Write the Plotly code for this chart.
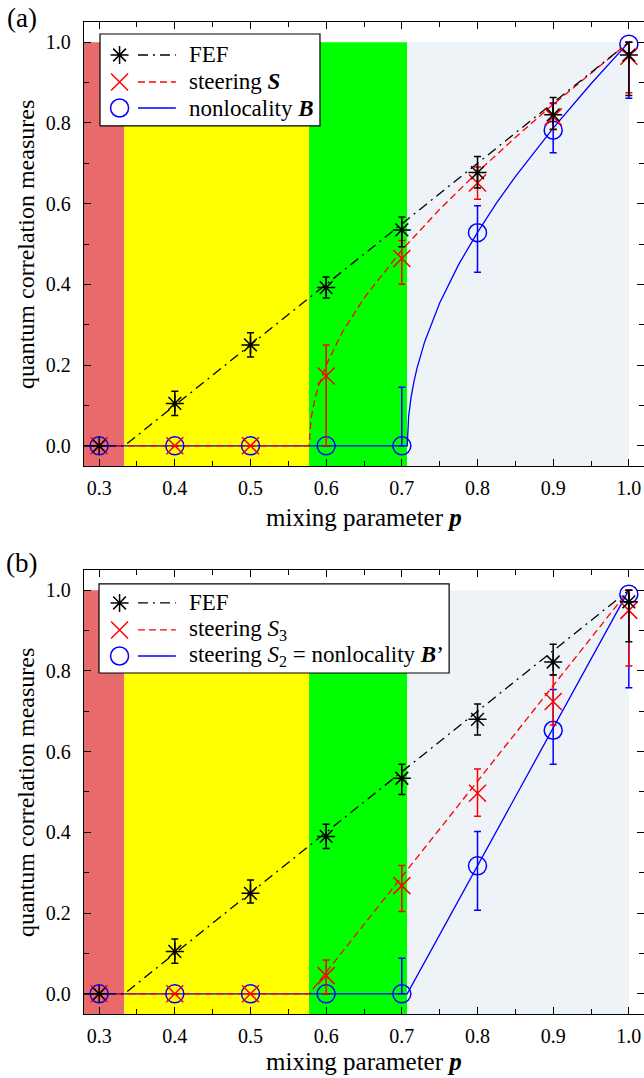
import plotly.graph_objects as go

# ---------------- data ----------------
p_data = [0.3, 0.4, 0.5, 0.6, 0.7, 0.8, 0.9, 1.0]

# panel (a)
fef_a = [0.0, 0.105, 0.25, 0.392, 0.535, 0.677, 0.82, 0.968]
fef_a_up = [None, 0.03, 0.03, 0.026, 0.032, 0.04, 0.043, 0.032]
fef_a_dn = [None, 0.03, 0.03, 0.026, 0.042, 0.038, 0.036, 0.1]
s_a = [0.0, 0.0, 0.0, 0.173, 0.464, 0.651, 0.815, 0.965]
s_a_up = [None, None, None, 0.077, 0.045, 0.04, 0.035, 0.035]
s_a_dn = [None, None, None, 0.173, 0.064, 0.04, 0.032, 0.09]
b_a = [0.0, 0.0, 0.0, 0.0, 0.0, 0.528, 0.782, 0.995]
b_a_up = [None, None, None, None, 0.145, 0.067, 0.066, 0.005]
b_a_dn = [None, None, None, None, 0.0, 0.098, 0.056, 0.134]

# panel (b)
fef_b = [0.0, 0.105, 0.249, 0.39, 0.534, 0.68, 0.822, 0.971]
fef_b_up = [None, 0.031, 0.033, 0.03, 0.035, 0.038, 0.044, 0.029]
fef_b_dn = [None, 0.029, 0.024, 0.03, 0.04, 0.039, 0.032, 0.099]
s3_b = [0.0, 0.0, 0.0, 0.045, 0.268, 0.497, 0.724, 0.95]
s3_b_up = [None, None, None, 0.039, 0.05, 0.06, 0.066, 0.05]
s3_b_dn = [None, None, None, 0.045, 0.064, 0.057, 0.058, 0.138]
b_b = [0.0, 0.0, 0.0, 0.0, 0.0, 0.317, 0.653, 0.99]
b_b_up = [None, None, None, None, 0.088, 0.085, 0.101, 0.01]
b_b_dn = [None, None, None, None, 0.0, 0.11, 0.084, 0.232]

# theory curves
fef_line_p = [0.28, 0.3333, 1.0]
fef_line_v = [0.0, 0.0, 1.0]
s_line_p = [0.28, 0.5774, 0.58, 0.585, 0.59, 0.60, 0.62, 0.65, 0.70, 0.75, 0.80, 0.85, 0.90, 0.95, 1.0]
s_line_v = [0.0, 0.0, 0.068, 0.115, 0.149, 0.2, 0.277, 0.366, 0.485, 0.586, 0.678, 0.764, 0.846, 0.924, 1.0]
b_line_p = [0.28, 0.7071, 0.709, 0.712, 0.716, 0.72, 0.73, 0.75, 0.775, 0.8, 0.825, 0.85, 0.9, 0.95, 1.0]
b_line_v = [0.0, 0.0, 0.073, 0.118, 0.159, 0.192, 0.257, 0.354, 0.449, 0.529, 0.601, 0.667, 0.787, 0.897, 1.0]
s3_line_p = [0.28, 0.5774, 1.0]
s3_line_v = [0.0, 0.0, 1.0]
b2_line_p = [0.28, 0.7071, 1.0]
b2_line_v = [0.0, 0.0, 1.0]

# region boundaries in p
region_edges = [0.28, 0.3333, 0.5774, 0.7071, 1.0]
region_colors = ["#E96A6A", "#FFFF00", "#00FF00", "#EEF3F7"]
region_top = 1.0

x_ticks = [0.3, 0.4, 0.5, 0.6, 0.7, 0.8, 0.9, 1.0]
x_ticktext = ["0.3", "0.4", "0.5", "0.6", "0.7", "0.8", "0.9", "1.0"]
x_minor = [0.35, 0.45, 0.55, 0.65, 0.75, 0.85, 0.95]
y_ticks = [0.0, 0.2, 0.4, 0.6, 0.8, 1.0]
y_ticktext = ["0.0", "0.2", "0.4", "0.6", "0.8", "1.0"]
y_minor = [0.1, 0.3, 0.5, 0.7, 0.9]

legend_a = ["FEF", "steering <b><i>S</i></b>", "nonlocality <b><i>B</i></b>"]
legend_b = ["FEF", "steering <i>S</i><sub>3</sub>",
            "steering <i>S</i><sub>2</sub> = nonlocality <b><i>B</i></b>\u2019"]

FONT = "'Liberation Serif', 'Times New Roman', Times, serif"
BLACK, RED, BLUE = "#000000", "#FF0000", "#0000FF"
DASHDOT = "10px,5px,2px,5px"
DASH = "7px,4px"

fig = go.Figure()


def add_panel(xa, ya, lines, pts):
    for (lp, lv, col, dash) in lines:
        fig.add_trace(go.Scatter(x=lp, y=lv, mode="lines", xaxis=xa, yaxis=ya,
                                 line=dict(color=col, width=1.3, dash=dash),
                                 showlegend=False, hoverinfo="skip"))
    for (vals, up, dn, col, sym, size) in pts:
        fig.add_trace(go.Scatter(
            x=p_data, y=vals, mode="markers", xaxis=xa, yaxis=ya,
            marker=dict(symbol=sym, size=size, color=col, line=dict(color=col, width=1.5)),
            error_y=dict(type="data", symmetric=False, array=up, arrayminus=dn,
                         color=col, thickness=1.5, width=3.5),
            showlegend=False))


add_panel("x", "y",
          [(b_line_p, b_line_v, BLUE, "solid"), (s_line_p, s_line_v, RED, DASH),
           (fef_line_p, fef_line_v, BLACK, DASHDOT)],
          [(b_a, b_a_up, b_a_dn, BLUE, "circle-open", 18),
           (s_a, s_a_up, s_a_dn, RED, "x-thin-open", 17),
           (fef_a, fef_a_up, fef_a_dn, BLACK, "asterisk-open", 15)])
add_panel("x2", "y2",
          [(b2_line_p, b2_line_v, BLUE, "solid"), (s3_line_p, s3_line_v, RED, DASH),
           (fef_line_p, fef_line_v, BLACK, DASHDOT)],
          [(b_b, b_b_up, b_b_dn, BLUE, "circle-open", 18),
           (s3_b, s3_b_up, s3_b_dn, RED, "x-thin-open", 17),
           (fef_b, fef_b_up, fef_b_dn, BLACK, "asterisk-open", 15)])

# background regions
for yr in ["y", "y2"]:
    xr = "x" if yr == "y" else "x2"
    for i, c in enumerate(region_colors):
        fig.add_shape(type="rect", xref=xr, yref=yr, x0=region_edges[i], x1=region_edges[i + 1],
                      y0=-0.05, y1=region_top, fillcolor=c, line=dict(width=0), layer="below")

# custom legends on overlay axes (domain fractions)
def add_legend(xa, ya, box, labels, xref, yref):
    bx0, bx1, by0, by1 = box
    fig.add_trace(go.Scatter(x=[bx0, bx1, bx1, bx0, bx0], y=[by0, by0, by1, by1, by0],
                             mode="lines", fill="toself", fillcolor="white",
                             line=dict(color="black", width=1.2), xaxis=xa, yaxis=ya,
                             showlegend=False, hoverinfo="skip"))
    rows = [0.9257, 0.8649, 0.8063]
    specs = [(BLACK, "asterisk-open", 15, DASHDOT), (RED, "x-thin-open", 17, DASH),
             (BLUE, "circle-open", 18, "solid")]
    for r, (col, sym, size, dash), lab in zip(rows, specs, labels):
        fig.add_trace(go.Scatter(x=[0.0964, 0.164], y=[r, r], mode="lines", xaxis=xa, yaxis=ya,
                                 line=dict(color=col, width=1.3, dash=dash),
                                 showlegend=False, hoverinfo="skip"))
        fig.add_trace(go.Scatter(x=[0.0635], y=[r], mode="markers", xaxis=xa, yaxis=ya,
                                 marker=dict(symbol=sym, size=size, color=col,
                                             line=dict(color=col, width=1.5)),
                                 showlegend=False, hoverinfo="skip"))
        fig.add_annotation(text=lab, xref=xref, yref=yref, x=0.184, y=r, xanchor="left",
                           yanchor="middle", showarrow=False,
                           font=dict(family=FONT, size=23, color="black"))


add_legend("x3", "y3", (0.0286, 0.4214, 0.766, 0.973), legend_a, "x domain", "y domain")
add_legend("x4", "y4", (0.0268, 0.652, 0.768, 0.9685), legend_b, "x2 domain", "y2 domain")

dom_a = [0.5524, 1.0]
dom_b = [0.0, 0.4476]

xcommon = dict(range=[0.28, 1.02], tickvals=x_ticks, ticktext=x_ticktext, ticks="inside",
               ticklen=7, tickwidth=1.2, tickcolor="black", showline=True, linecolor="black",
               linewidth=1.3, mirror="allticks", showgrid=False, zeroline=False,
               tickfont=dict(family=FONT, size=20, color="black"), ticklabelstandoff=4,
               minor=dict(tickvals=x_minor, ticks="inside", ticklen=5, tickwidth=1.1,
                          tickcolor="black", showgrid=False))
ycommon = dict(range=[-0.05, 1.05], tickvals=y_ticks, ticktext=y_ticktext, ticks="inside",
               ticklen=7, tickwidth=1.2, tickcolor="black", showline=True, linecolor="black",
               linewidth=1.3, mirror="allticks", showgrid=False, zeroline=False,
               tickfont=dict(family=FONT, size=20, color="black"), ticklabelstandoff=8,
               minor=dict(tickvals=y_minor, ticks="inside", ticklen=5, tickwidth=1.1,
                          tickcolor="black", showgrid=False))
hidden = dict(range=[0, 1], visible=False, showgrid=False, zeroline=False, fixedrange=True)

fig.update_layout(
    width=644, height=1078,
    margin=dict(l=84, r=0, t=22, b=64),
    paper_bgcolor="white", plot_bgcolor="white",
    font=dict(family=FONT, color="black"),
    showlegend=False,
    xaxis=dict(**xcommon, domain=[0, 1], anchor="y"),
    yaxis=dict(**ycommon, domain=dom_a, anchor="x"),
    xaxis2=dict(**xcommon, domain=[0, 1], anchor="y2"),
    yaxis2=dict(**ycommon, domain=dom_b, anchor="x2"),
    xaxis3=dict(**hidden, overlaying="x", anchor="y3"),
    yaxis3=dict(**hidden, overlaying="y", anchor="x3"),
    xaxis4=dict(**hidden, overlaying="x2", anchor="y4"),
    yaxis4=dict(**hidden, overlaying="y2", anchor="x4"),
)

# axis titles and panel labels
for yr, xr, lab, ly, tshift in [("y", "x", "(a)", 1.004, -51), ("y2", "x2", "(b)", 0.4546, -47)]:
    fig.add_annotation(text="mixing parameter <b><i>p</i></b>", xref=xr + " domain", yref=yr + " domain",
                       x=0.5, y=0, yshift=tshift, xanchor="center", yanchor="middle", showarrow=False,
                       font=dict(family=FONT, size=25, color="black"))
    fig.add_annotation(text="quantum correlation measures", xref="paper", yref=yr + " domain",
                       x=-0.1036, y=0.5, textangle=-90, xanchor="center", yanchor="middle",
                       showarrow=False, font=dict(family=FONT, size=24, color="black"))
    fig.add_annotation(text=lab, xref="paper", yref="paper", x=-0.111, y=ly, xanchor="center",
                       yanchor="middle", showarrow=False, font=dict(family=FONT, size=27, color="black"))

fig.write_html("out.html", config={"displayModeBar": False},
               post_script="document.body.style.margin='0';document.body.style.overflow='hidden';")
